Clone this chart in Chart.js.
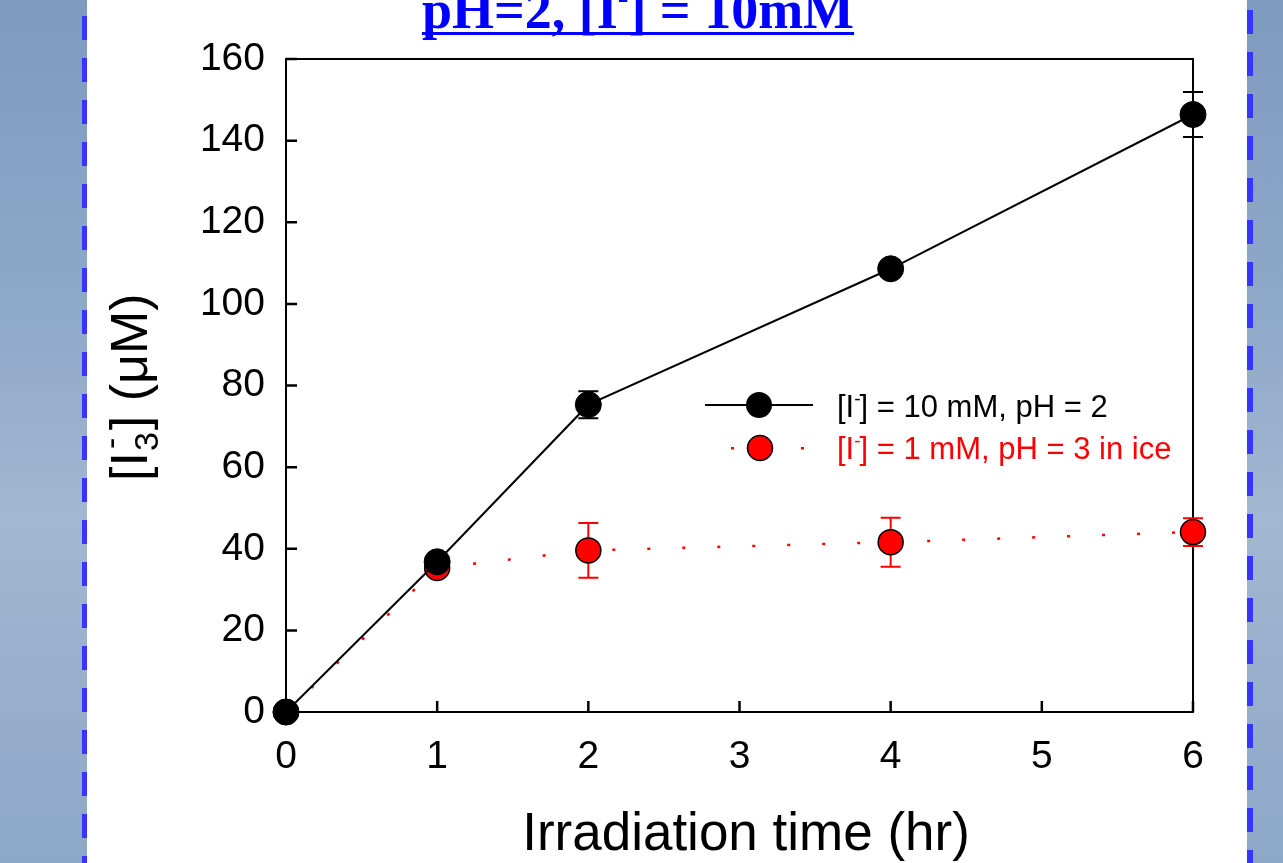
<!DOCTYPE html>
<html><head><meta charset="utf-8">
<script src="https://cdn.jsdelivr.net/npm/chart.js@4.4.0/dist/chart.umd.min.js"></script>
<style>
html,body{margin:0;padding:0;width:1283px;height:863px;overflow:hidden;}
body{position:relative;background:linear-gradient(180deg,#7e9abf 0%,#8ea8c8 35%,#a2b7d1 60%,#8da7c7 100%);}
#panel{position:absolute;left:87px;top:0;width:1160px;height:863px;background:#fff;}
.dash{position:absolute;top:0;width:5px;height:863px;background:repeating-linear-gradient(180deg,#3535ff 0px,#3535ff 24px,transparent 24px,transparent 42px);}
#c{position:absolute;left:0;top:0;}
</style></head>
<body>
<div id="panel"></div>
<div class="dash" style="left:82px;top:16px;height:847px"></div>
<div class="dash" style="left:1247px;top:10px;height:853px;width:6px"></div>
<canvas id="c" width="1283" height="863"></canvas>
<script>
// ---- data ----
const timeHours = [0, 1, 2, 4, 6];
const seriesA = [0, 36.8, 75.3, 108.6, 146.4];      // [I-] = 10 mM, pH = 2
const errorA  = [0, 0, 3.3, 0, 5.5];
const seriesB = [0, 35.3, 39.6, 41.6, 44.1];        // [I-] = 1 mM, pH = 3 in ice
const errorB  = [0, 0, 6.7, 6.0, 3.4];
const seriesNames = ['[I⁻] = 10 mM, pH = 2', '[I⁻] = 1 mM, pH = 3 in ice'];
const xTicks = [0, 1, 2, 3, 4, 5, 6];
const yTicks = [0, 20, 40, 60, 80, 100, 120, 140, 160];
const chartTitle = ['pH=2, [I', '-', '] = 10mM'];
const xTitle = 'Irradiation time (hr)';
const yTitle = ['[I', '3', '-', '] (μM)'];

const SANS = '"Liberation Sans", Arial, sans-serif';
const SERIF = '"Liberation Serif", "Times New Roman", serif';

const errs = [errorA, errorB];
const colors = ['#000000', '#ff0000'];

const decorPlugin = {
  id: 'decor',
  beforeDatasetsDraw(chart) {
    const {ctx, chartArea: a, scales} = chart;
    ctx.save();
    ctx.strokeStyle = '#000';
    ctx.lineWidth = 2;
    ctx.strokeRect(a.left, a.top, a.right - a.left, a.bottom - a.top);
    ctx.lineWidth = 2.5;
    ctx.beginPath();
    xTicks.forEach(v => { const x = scales.x.getPixelForValue(v); ctx.moveTo(x, a.bottom); ctx.lineTo(x, a.bottom - 11); });
    yTicks.forEach(v => { const y = scales.y.getPixelForValue(v); ctx.moveTo(a.left, y); ctx.lineTo(a.left + 11, y); });
    ctx.stroke();
    ctx.restore();
  },
  beforeDatasetDraw(chart, args) {
    const {ctx, scales} = chart;
    const i = args.index;
    const ds = chart.data.datasets[i];
    ctx.save();
    ctx.strokeStyle = colors[i];
    ctx.lineWidth = 2;
    ds.data.forEach((p, k) => {
      const e = errs[i][k];
      if (!e) return;
      const x = scales.x.getPixelForValue(p.x);
      const y1 = scales.y.getPixelForValue(p.y + e);
      const y2 = scales.y.getPixelForValue(p.y - e);
      ctx.beginPath();
      ctx.moveTo(x, y1); ctx.lineTo(x, y2);
      ctx.moveTo(x - 10, y1); ctx.lineTo(x + 10, y1);
      ctx.moveTo(x - 10, y2); ctx.lineTo(x + 10, y2);
      ctx.stroke();
    });
    ctx.restore();
  },
  afterDraw(chart) {
    const {ctx, chartArea: a} = chart;
    ctx.save();
    // legend
    const lx = a.left + 419, ly1 = 405, ly2 = 448;
    ctx.strokeStyle = '#000'; ctx.lineWidth = 2;
    ctx.beginPath(); ctx.moveTo(lx, ly1); ctx.lineTo(lx + 108, ly1); ctx.stroke();
    ctx.fillStyle = '#000';
    ctx.beginPath(); ctx.arc(lx + 54, ly1, 13, 0, Math.PI * 2); ctx.fill();
    ctx.fillStyle = '#ff0000';
    ctx.fillRect(lx + 26, ly2 - 1, 3, 2.5);
    ctx.fillRect(lx + 96, ly2 - 1, 3, 2.5);
    ctx.beginPath(); ctx.arc(lx + 55, ly2, 12.5, 0, Math.PI * 2); ctx.fill();
    ctx.lineWidth = 1.5; ctx.strokeStyle = '#000'; ctx.stroke();
    const drawLegendText = (txt, x, y, color) => {
      const parts = txt.split('⁻');
      ctx.fillStyle = color;
      ctx.font = '31px ' + SANS;
      ctx.textBaseline = 'alphabetic';
      ctx.textAlign = 'left';
      ctx.fillText(parts[0], x, y);
      let w = ctx.measureText(parts[0]).width;
      ctx.font = '19px ' + SANS;
      ctx.fillText('-', x + w, y - 12);
      w += ctx.measureText('-').width - 1;
      ctx.font = '31px ' + SANS;
      ctx.fillText(parts[1], x + w, y);
    };
    drawLegendText(seriesNames[0], lx + 132, 417, '#000');
    drawLegendText(seriesNames[1], lx + 132, 459, '#ff0000');

    // x title
    ctx.fillStyle = '#000';
    ctx.font = '53px ' + SANS;
    ctx.textAlign = 'center';
    ctx.textBaseline = 'alphabetic';
    ctx.fillText(xTitle, 746, 850);

    // y title
    ctx.save();
    ctx.translate(147, 481);
    ctx.rotate(-Math.PI / 2);
    ctx.textAlign = 'left';
    ctx.font = '52px ' + SANS;
    ctx.fillText(yTitle[0], 0, 0);
    let w = ctx.measureText(yTitle[0]).width;
    ctx.font = '34px ' + SANS;
    ctx.fillText(yTitle[1], w + 1, 11);
    ctx.fillText(yTitle[2], w + 3, -25);
    w += ctx.measureText(yTitle[1]).width + 3;
    ctx.font = '52px ' + SANS;
    ctx.fillText(yTitle[3], w, 0);
    ctx.restore();

    // chart title
    ctx.fillStyle = '#0000ff';
    ctx.strokeStyle = '#0000ff';
    ctx.textAlign = 'left';
    ctx.font = 'bold 54px ' + SERIF;
    const t0 = ctx.measureText(chartTitle[0]).width;
    const t2 = ctx.measureText(chartTitle[2]).width;
    ctx.font = 'bold 32px ' + SERIF;
    const t1 = ctx.measureText(chartTitle[1]).width;
    const total = t0 + t1 + t2;
    const sx = 638 - total / 2;
    ctx.font = 'bold 54px ' + SERIF;
    ctx.fillText(chartTitle[0], sx, 28);
    ctx.font = 'bold 32px ' + SERIF;
    ctx.fillText(chartTitle[1], sx + t0, 8);
    ctx.font = 'bold 54px ' + SERIF;
    ctx.fillText(chartTitle[2], sx + t0 + t1, 28);
    ctx.lineWidth = 3;
    ctx.beginPath(); ctx.moveTo(sx, 33.5); ctx.lineTo(sx + total, 33.5); ctx.stroke();
    ctx.restore();
  }
};

const tickFont = {family: SANS, size: 39};
new Chart(document.getElementById('c'), {
  type: 'line',
  data: {
    datasets: [
      {
        label: seriesNames[0],
        data: timeHours.map((t, i) => ({x: t, y: seriesA[i]})),
        borderColor: '#000', borderWidth: 2,
        pointRadius: 13, pointBackgroundColor: '#000', pointBorderColor: '#000', pointBorderWidth: 1,
        clip: false, tension: 0
      },
      {
        label: seriesNames[1],
        data: timeHours.map((t, i) => ({x: t, y: seriesB[i]})),
        borderColor: '#ff0000', borderWidth: 2.5, borderDash: [3, 32],
        pointRadius: 12.5, pointBackgroundColor: '#ff0000', pointBorderColor: '#000', pointBorderWidth: 1.5,
        clip: false, tension: 0
      }
    ]
  },
  options: {
    responsive: false, animation: false, devicePixelRatio: 1,
    layout: {padding: {left: 0, top: 59, right: 90, bottom: 0}},
    plugins: {legend: {display: false}, tooltip: {enabled: false}},
    scales: {
      x: {
        type: 'linear', min: 0, max: 6,
        afterBuildTicks: s => { s.ticks = xTicks.map(v => ({value: v})); },
        ticks: {color: '#000', font: tickFont, padding: 22, maxRotation: 0, autoSkip: false},
        grid: {display: false, drawTicks: false},
        border: {display: false},
        afterFit: s => { s.height = 151; }
      },
      y: {
        min: 0, max: 160,
        afterBuildTicks: s => { s.ticks = yTicks.map(v => ({value: v})); },
        ticks: {color: '#000', font: tickFont, padding: 21, autoSkip: false},
        grid: {display: false, drawTicks: false},
        border: {display: false},
        afterFit: s => { s.width = 286; }
      }
    }
  },
  plugins: [decorPlugin]
});
</script>
</body></html>
